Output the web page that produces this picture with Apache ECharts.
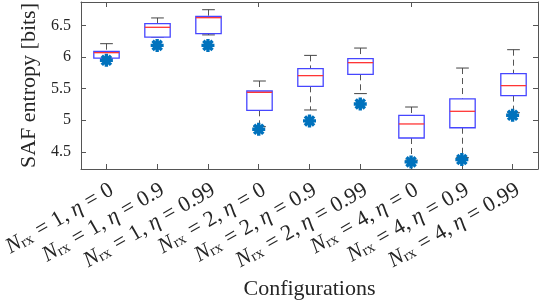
<!DOCTYPE html>
<html><head><meta charset="utf-8">
<script src="https://cdn.jsdelivr.net/npm/echarts@6/dist/echarts.min.js"></script>
<style>html,body{margin:0;padding:0;background:#fff}#c{width:540px;height:300px}</style>
</head><body><div id="c"></div>
<script>
// Configurations
const nrx = [1, 1, 1, 2, 2, 2, 4, 4, 4];
const eta = ['0', '0.9', '0.99', '0', '0.9', '0.99', '0', '0.9', '0.99'];
const categories = nrx.map((n, i) => 'N_rx = ' + n + ', η = ' + eta[i]);

// Box plot statistics (bits)
const upperWhisker = [6.211, 6.618, 6.748, 5.621, 6.026, 6.142, 5.210, 5.826, 6.116];
const q3           = [6.090, 6.527, 6.642, 5.463, 5.817, 5.974, 5.079, 5.340, 5.738];
const median       = [6.069, 6.470, 6.622, 5.442, 5.706, 5.911, 4.942, 5.142, 5.548];
const q1           = [5.984, 6.315, 6.369, 5.158, 5.537, 5.727, 4.720, 4.882, 5.390];
const lowerWhisker = [5.984, 6.315, 6.350, 4.900, 5.163, 5.422, 4.370, 4.410, 5.120];

// Star markers (bits)
const marker = [5.948, 6.184, 6.184, 4.858, 4.990, 5.258, 4.342, 4.380, 5.080];

// Y axis
const yMin = 4.23, yMax = 6.87;
const yTicks = [4.5, 5, 5.5, 6, 6.5];

const FONT = "'Liberation Serif', 'Times New Roman', serif";
const TXT = '#262626';
const FRAME = '#555';

const boxData = categories.map((c, i) => [i, upperWhisker[i], q3[i], median[i], q1[i], lowerWhisker[i]]);
const starData = categories.map((c, i) => [i, marker[i]]);

const asterisk = 'path://M-1,-0.26L1,-0.26L1,0.26L-1,0.26Z' +
  'M-0.26,-1L0.26,-1L0.26,1L-0.26,1Z' +
  'M-0.523,-0.891L0.891,0.523L0.523,0.891L-0.891,-0.523Z' +
  'M-0.891,0.523L0.523,-0.891L0.891,-0.523L-0.523,0.891Z';

const chart = echarts.init(document.getElementById('c'), null, {renderer: 'canvas'});
chart.setOption({
  animation: false,
  backgroundColor: '#fff',
  textStyle: {fontFamily: FONT},
  grid: {left: 81, right: 2, top: 2, bottom: 131, containLabel: false, outerBoundsMode: 'none'},
  xAxis: [{
    type: 'category',
    data: categories,
    position: 'bottom',
    boundaryGap: true,
    name: 'Configurations',
    nameLocation: 'middle',
    nameGap: 107,
    nameTextStyle: {fontFamily: FONT, fontSize: 22, color: TXT},
    axisLine: {show: true, lineStyle: {color: FRAME, width: 1}},
    axisTick: {show: true, inside: true, alignWithLabel: true, length: 5, lineStyle: {color: FRAME}},
    splitLine: {show: false},
    axisLabel: {
      interval: 0,
      rotate: 30,
      margin: 10,
      padding: [22, 0, 0, 0],
      color: TXT,
      fontFamily: FONT,
      hideOverlap: false,
      formatter: function (v, i) {
        return '{n|N}{s|rx}{e|=}{c|' + nrx[i] + ',}{n|η}{e|=}{t|' + eta[i] + '}';
      },
      rich: {
        n: {fontFamily: FONT, fontSize: 22, fontStyle: 'italic', color: TXT, lineHeight: 22, verticalAlign: 'middle'},
        s: {fontFamily: FONT, fontSize: 15, color: TXT, lineHeight: 14, verticalAlign: 'bottom', padding: [0, 1, 0, 0]},
        e: {fontFamily: FONT, fontSize: 22, color: TXT, lineHeight: 22, padding: [0, 6, 0, 6], verticalAlign: 'middle'},
        c: {fontFamily: FONT, fontSize: 22, color: TXT, lineHeight: 22, padding: [0, 5, 0, 0], verticalAlign: 'middle'},
        t: {fontFamily: FONT, fontSize: 22, color: TXT, lineHeight: 22, verticalAlign: 'middle'}
      }
    }
  }, {
    type: 'category',
    data: categories,
    position: 'top',
    boundaryGap: true,
    axisLine: {show: true, lineStyle: {color: FRAME, width: 1}},
    axisTick: {show: true, inside: true, alignWithLabel: true, length: 5, lineStyle: {color: FRAME}},
    axisLabel: {show: false},
    splitLine: {show: false}
  }],
  yAxis: [{
    type: 'value',
    min: yMin,
    max: yMax,
    position: 'left',
    name: 'SAF entropy [bits]',
    nameLocation: 'middle',
    nameGap: 40,
    nameTextStyle: {fontFamily: FONT, fontSize: 22, color: TXT},
    axisLine: {show: true, lineStyle: {color: FRAME, width: 1}},
    axisTick: {show: true, inside: true, length: 5, lineStyle: {color: FRAME}},
    splitLine: {show: false},
    axisLabel: {
      margin: 10,
      fontFamily: FONT,
      fontSize: 16,
      color: TXT,
      showMinLabel: false,
      showMaxLabel: false,
      formatter: function (v) {
        for (const t of yTicks) { if (Math.abs(v - t) < 1e-6) return String(t); }
        return '';
      }
    }
  }, {
    type: 'value',
    min: yMin,
    max: yMax,
    position: 'right',
    axisLine: {show: true, lineStyle: {color: FRAME, width: 1}},
    axisTick: {show: true, inside: true, length: 5, lineStyle: {color: FRAME}},
    axisLabel: {show: false},
    splitLine: {show: false}
  }],
  series: [{
    type: 'custom',
    xAxisIndex: 0,
    yAxisIndex: 0,
    data: boxData,
    encode: {x: 0, y: [1, 2, 3, 4, 5]},
    z: 2,
    renderItem: function (params, api) {
      const i = api.value(0);
      const w = api.size([1, 0])[0];
      const bw = w * 0.5, cw = w * 0.25;
      const pUW = api.coord([i, api.value(1)]);
      const pQ3 = api.coord([i, api.value(2)]);
      const pMed = api.coord([i, api.value(3)]);
      const pQ1 = api.coord([i, api.value(4)]);
      const pLW = api.coord([i, api.value(5)]);
      const x = Math.round(pQ3[0]) + 0.5;
      const dash = {stroke: '#555', lineWidth: 1, lineDash: [6, 4]};
      const cap = {stroke: '#444', lineWidth: 1};
      return {
        type: 'group',
        children: [
          {type: 'line', shape: {x1: x, y1: pUW[1], x2: x, y2: pQ3[1]}, style: dash},
          {type: 'line', shape: {x1: x, y1: pQ1[1], x2: x, y2: pLW[1]}, style: dash},
          {type: 'line', shape: {x1: x - cw / 2, y1: pUW[1], x2: x + cw / 2, y2: pUW[1]}, style: cap},
          {type: 'line', shape: {x1: x - cw / 2, y1: pLW[1], x2: x + cw / 2, y2: pLW[1]}, style: cap},
          {type: 'rect', shape: {x: x - bw / 2, y: pQ3[1], width: bw, height: pQ1[1] - pQ3[1]},
            style: {fill: '#fff', stroke: '#4646ff', lineWidth: 1.3}},
          {type: 'line', shape: {x1: x - bw / 2, y1: pMed[1], x2: x + bw / 2, y2: pMed[1]},
            style: {stroke: '#ff3535', lineWidth: 1.3}}
        ]
      };
    }
  }, {
    type: 'scatter',
    xAxisIndex: 0,
    yAxisIndex: 0,
    data: starData,
    symbol: asterisk,
    symbolSize: 13,
    z: 5,
    itemStyle: {color: '#0072BD', opacity: 1}
  }]
});
</script>
</body></html>
